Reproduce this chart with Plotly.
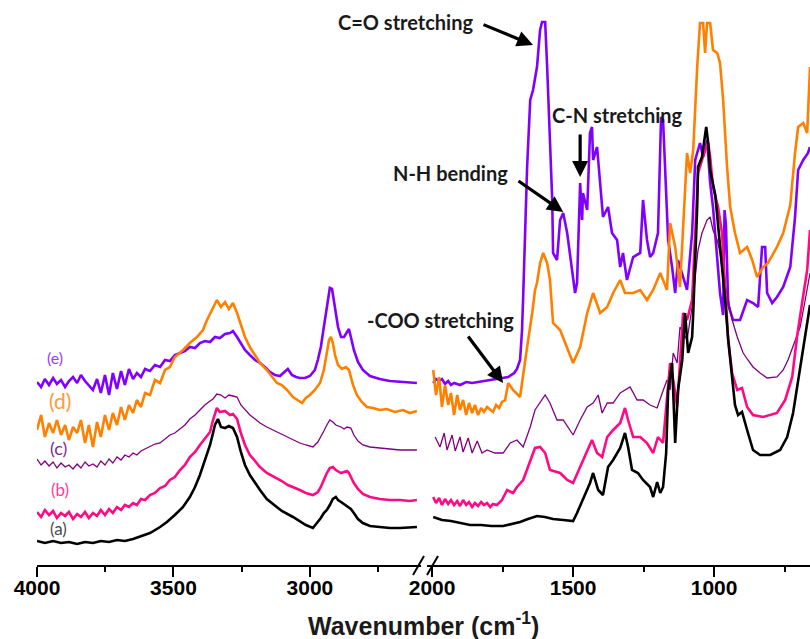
import plotly.graph_objects as go

# ---------------- data: (wavenumber cm-1, intensity a.u.) ----------------
A_LEFT = [(4000,24),(3971,22),(3941,24),(3912,22),(3883,23),(3853,21),(3824,23),(3795,22),(3766,24),(3736,23),(3707,25),(3678,24),(3648,26),(3619,29),(3586,32),(3549,38),(3524,43),(3495,50),(3465,58),(3440,68),(3421,78),(3403,90),(3385,104),(3366,120),(3355,132),(3348,140),(3337,146),(3326,138),(3311,137),(3297,139),(3282,137),(3267,128),(3253,113),(3238,100),(3220,90),(3201,82),(3183,75),(3158,66),(3128,59),(3103,54),(3062,48),(3037,44),(3015,40),(2989,37),(2971,43),(2960,47),(2949,52),(2938,55),(2927,60),(2916,66),(2905,68),(2897,65),(2886,63),(2875,61),(2864,59),(2850,56),(2839,52),(2824,46),(2806,42),(2780,39),(2744,38),(2707,37),(2670,37),(2634,38),(2608,38)]
B_LEFT = [(4000,53),(3985,48),(3971,55),(3956,50),(3941,54),(3927,47),(3912,52),(3897,49),(3883,53),(3868,46),(3853,51),(3839,48),(3824,53),(3810,47),(3795,52),(3780,49),(3766,55),(3751,50),(3736,56),(3722,52),(3707,58),(3692,55),(3678,60),(3663,58),(3648,62),(3634,60),(3619,66),(3604,65),(3586,70),(3568,72),(3549,77),(3531,79),(3513,85),(3495,88),(3476,95),(3458,100),(3440,108),(3421,113),(3403,120),(3385,126),(3366,133),(3355,145),(3341,157),(3330,153),(3311,154),(3293,150),(3282,151),(3267,146),(3253,132),(3238,120),(3220,110),(3201,104),(3183,98),(3158,92),(3128,88),(3103,84),(3081,80),(3062,78),(3037,75),(3015,72),(2989,70),(2971,73),(2960,78),(2949,85),(2938,92),(2927,97),(2916,98),(2905,95),(2886,92),(2875,93),(2864,94),(2857,92),(2850,88),(2839,82),(2824,76),(2806,71),(2780,68),(2744,66),(2707,65),(2670,65),(2634,64),(2608,65)]
C_LEFT = [(4000,106),(3985,100),(3971,104),(3956,99),(3941,103),(3927,97),(3912,102),(3897,98),(3883,100),(3868,96),(3853,101),(3839,97),(3824,103),(3810,99),(3795,101),(3780,98),(3766,104),(3751,100),(3736,106),(3722,102),(3707,108),(3692,105),(3678,110),(3663,108),(3648,112),(3634,110),(3619,114),(3604,116),(3586,118),(3568,121),(3549,122),(3531,126),(3513,130),(3495,132),(3476,136),(3458,140),(3440,146),(3421,150),(3403,155),(3385,160),(3366,164),(3355,166),(3341,171),(3326,170),(3311,167),(3297,170),(3282,169),(3267,168),(3253,160),(3238,155),(3220,150),(3201,146),(3183,142),(3158,138),(3128,134),(3103,131),(3081,128),(3062,125),(3037,122),(3015,120),(2989,118),(2971,123),(2960,128),(2949,134),(2938,140),(2927,145),(2916,143),(2905,140),(2886,138),(2875,136),(2864,138),(2850,137),(2839,130),(2824,124),(2806,120),(2780,118),(2744,117),(2707,116),(2670,115),(2608,115)]
D_LEFT = [(4000,135),(3985,150),(3971,128),(3956,142),(3941,132),(3927,145),(3912,130),(3897,140),(3883,125),(3868,138),(3853,132),(3839,145),(3824,122),(3810,140),(3795,118),(3780,143),(3766,128),(3751,150),(3736,135),(3722,152),(3707,140),(3692,158),(3678,145),(3663,160),(3648,152),(3634,165),(3619,158),(3604,172),(3586,170),(3568,185),(3549,182),(3531,195),(3513,198),(3495,208),(3465,215),(3440,222),(3414,228),(3392,235),(3377,245),(3355,258),(3341,265),(3326,258),(3311,263),(3297,256),(3282,262),(3267,252),(3253,240),(3238,228),(3220,218),(3201,210),(3183,202),(3158,195),(3139,188),(3121,182),(3103,180),(3084,175),(3062,168),(3044,165),(3029,162),(3015,167),(3000,170),(2982,175),(2963,182),(2949,195),(2938,212),(2930,225),(2923,228),(2916,222),(2908,210),(2897,200),(2883,196),(2868,198),(2857,195),(2842,180),(2828,170),(2810,163),(2791,158),(2769,157),(2744,155),(2718,156),(2689,153),(2659,155),(2634,152),(2608,154)]
E_LEFT = [(4000,183),(3985,178),(3971,186),(3956,180),(3941,187),(3927,181),(3912,185),(3897,178),(3883,184),(3868,188),(3853,182),(3839,190),(3824,184),(3810,180),(3795,175),(3780,186),(3766,172),(3751,190),(3736,170),(3722,192),(3707,176),(3692,194),(3678,180),(3663,196),(3648,186),(3634,192),(3619,188),(3604,196),(3586,194),(3568,200),(3549,198),(3531,205),(3513,204),(3495,210),(3476,212),(3458,214),(3440,218),(3421,217),(3403,222),(3385,224),(3366,223),(3348,228),(3330,227),(3311,231),(3293,232),(3282,234),(3267,228),(3253,222),(3238,215),(3220,210),(3201,205),(3183,202),(3165,198),(3147,193),(3128,190),(3110,189),(3095,193),(3081,196),(3066,190),(3051,188),(3037,187),(3018,187),(3000,189),(2982,195),(2971,205),(2960,218),(2949,238),(2938,258),(2930,272),(2927,277),(2919,276),(2912,265),(2905,250),(2897,238),(2886,228),(2875,228),(2864,233),(2857,236),(2850,228),(2839,215),(2824,203),(2806,195),(2780,189),(2744,186),(2707,184),(2670,183),(2608,182)]

A_RIGHT = [(1996,48),(1965,45),(1933,44),(1901,42),(1865,40),(1826,40),(1790,39),(1748,39),(1720,41),(1688,43),(1660,46),(1628,49),(1600,48),(1571,46),(1535,45),(1500,44),(1486,52),(1465,65),(1440,82),(1429,92),(1411,75),(1394,70),(1376,98),(1358,105),(1333,117),(1316,132),(1305,118),(1291,95),(1270,92),(1252,85),(1227,78),(1216,68),(1202,83),(1191,72),(1181,78),(1170,112),(1163,175),(1149,202),(1142,142),(1138,122),(1128,175),(1113,205),(1103,252),(1092,212),(1078,228),(1074,252),(1060,358),(1057,398),(1043,408),(1032,432),(1028,438),(1021,422),(1014,395),(996,370),(986,340),(972,300),(961,265),(950,225),(936,185),(926,160),(915,150),(901,153),(883,135),(862,115),(837,110),(801,110),(766,115),(741,128),(720,152),(702,185),(688,210),(670,240),(660,260)]
B_RIGHT = [(1996,68),(1986,62),(1975,67),(1965,60),(1954,66),(1943,61),(1933,65),(1922,60),(1911,64),(1901,59),(1890,65),(1879,60),(1869,63),(1858,58),(1848,62),(1837,59),(1826,63),(1816,60),(1805,62),(1794,58),(1784,61),(1770,60),(1752,65),(1734,75),(1713,72),(1699,78),(1677,85),(1652,105),(1635,117),(1617,118),(1599,112),(1582,95),(1546,92),(1521,85),(1500,82),(1475,98),(1450,115),(1433,125),(1415,112),(1397,108),(1379,128),(1358,135),(1333,142),(1316,157),(1305,145),(1287,128),(1262,128),(1238,122),(1216,112),(1199,128),(1181,122),(1167,168),(1156,202),(1145,185),(1131,158),(1121,202),(1110,252),(1096,245),(1078,265),(1067,332),(1057,392),(1043,405),(1032,415),(1021,422),(1014,408),(1004,378),(986,358),(972,332),(961,278),(950,225),(936,192),(918,175),(901,177),(883,158),(862,150),(826,148),(777,152),(748,165),(723,188),(706,228),(688,262),(670,295),(660,335)]
C_RIGHT = [(1989,128),(1972,118),(1957,132),(1947,115),(1929,130),(1918,114),(1901,128),(1890,113),(1872,127),(1858,112),(1840,124),(1823,112),(1805,115),(1777,112),(1748,112),(1723,122),(1699,125),(1677,118),(1652,138),(1635,155),(1599,170),(1582,162),(1557,145),(1535,145),(1500,130),(1475,145),(1450,158),(1429,162),(1411,170),(1397,152),(1379,162),(1358,162),(1333,172),(1298,178),(1273,165),(1252,165),(1227,160),(1202,157),(1184,172),(1167,185),(1156,175),(1145,212),(1131,202),(1121,238),(1096,225),(1078,258),(1057,315),(1043,332),(1025,345),(1014,348),(1004,335),(989,325),(979,312),(968,288),(954,272),(936,245),(918,228),(897,212),(880,205),(862,198),(837,192),(812,187),(777,188),(755,195),(738,205),(720,218),(695,238),(677,265),(660,292)]
D_RIGHT = [(1996,195),(1986,170),(1975,188),(1965,158),(1954,180),(1943,160),(1933,172),(1922,150),(1911,170),(1901,155),(1890,165),(1879,150),(1869,162),(1858,152),(1848,160),(1837,150),(1826,157),(1816,153),(1805,158),(1794,155),(1784,153),(1773,160),(1762,157),(1752,163),(1741,165),(1730,182),(1713,175),(1688,168),(1677,188),(1663,218),(1645,252),(1635,275),(1628,282),(1617,302),(1606,312),(1592,302),(1582,285),(1571,242),(1546,235),(1521,218),(1500,202),(1475,218),(1450,252),(1429,272),(1404,252),(1379,258),(1358,272),(1333,285),(1316,272),(1287,272),(1262,275),(1238,265),(1216,275),(1191,292),(1167,275),(1156,342),(1138,318),(1121,278),(1110,332),(1096,412),(1085,392),(1074,415),(1060,498),(1050,542),(1039,542),(1032,512),(1025,542),(1014,542),(1004,515),(989,512),(979,502),(968,465),(954,398),(943,358),(926,332),(908,312),(883,318),(865,305),(848,288),(826,298),(809,302),(777,318),(755,332),(730,360),(713,412),(702,438),(684,442),(670,432),(660,498)]
E_RIGHT = [(1996,182),(1986,186),(1975,184),(1965,186),(1954,181),(1943,184),(1933,180),(1922,182),(1901,180),(1879,183),(1858,182),(1837,183),(1816,184),(1794,185),(1773,186),(1752,187),(1730,188),(1709,192),(1699,196),(1688,205),(1681,235),(1677,268),(1670,332),(1663,398),(1652,465),(1642,475),(1628,498),(1617,535),(1610,543),(1599,543),(1592,498),(1582,432),(1574,365),(1571,312),(1557,305),(1546,345),(1535,352),(1521,332),(1504,298),(1493,272),(1486,282),(1475,382),(1468,345),(1465,372),(1450,355),(1440,432),(1433,438),(1429,405),(1415,418),(1404,378),(1394,348),(1376,358),(1362,332),(1344,325),(1333,298),(1323,312),(1309,285),(1287,308),(1262,312),(1252,365),(1238,325),(1227,308),(1216,312),(1199,332),(1188,448),(1181,445),(1174,398),(1163,325),(1149,298),(1138,272),(1128,305),(1110,288),(1096,275),(1078,332),(1067,405),(1050,422),(1039,408),(1025,425),(1014,382),(1004,358),(989,305),(979,272),(968,250),(963,355),(958,340),(950,260),(933,245),(908,245),(883,265),(862,262),(844,258),(830,318),(819,318),(812,272),(794,262),(777,268),(755,278),(730,298),(713,348),(702,395),(684,405),(667,412),(660,418)]

SERIES = [
    ("(e)", E_LEFT, E_RIGHT, "#8000FF", 2.6),
    ("(d)", D_LEFT, D_RIGHT, "#FF8000", 2.6),
    ("(c)", C_LEFT, C_RIGHT, "#800080", 1.3),
    ("(b)", B_LEFT, B_RIGHT, "#FF0A84", 2.6),
    ("(a)", A_LEFT, A_RIGHT, "#000000", 2.6),
]

LEFT_TICKS = [4000, 3500, 3000]
LEFT_MINOR = [3750, 3250, 2750]
RIGHT_TICKS = [2000, 1500, 1000]
RIGHT_MINOR = [1750, 1250, 750]

PEAK_LABELS = ["C=O stretching", "N-H bending", "C-N stretching", "-COO stretching"]

# ---------------- figure ----------------
W, H = 810, 639
ML, MR, MT, MB = 0, 0, 0, 74
PH = H - MT - MB


def px(x):
    return x / W


def py(y):
    return (H - MB - y) / PH


fig = go.Figure()
for name, left, right, color, lw in SERIES:
    fig.add_trace(go.Scatter(x=[p[0] for p in left], y=[p[1] for p in left], mode="lines",
                             line=dict(color=color, width=lw), xaxis="x", yaxis="y",
                             showlegend=False, name=name))
    fig.add_trace(go.Scatter(x=[p[0] for p in right], y=[p[1] for p in right], mode="lines",
                             line=dict(color=color, width=lw), xaxis="x2", yaxis="y",
                             showlegend=False, name=name))

tickfont = dict(family="Arial, Liberation Sans, sans-serif", size=21, color="black", weight="bold")
common = dict(showgrid=False, zeroline=False, showline=True, linecolor="black", linewidth=2,
              ticks="outside", ticklen=10, tickwidth=2, tickcolor="black", tickfont=tickfont,
              anchor="y", automargin=False, ticklabelstandoff=-7)

fig.update_layout(
    width=W, height=H, margin=dict(l=ML, r=MR, t=MT, b=MB, autoexpand=False),
    showlegend=False,
    paper_bgcolor="white", plot_bgcolor="white",
    xaxis=dict(domain=[px(37), px(421)], range=[4000, 2593], tickvals=LEFT_TICKS,
               minor=dict(tickvals=LEFT_MINOR, ticks="outside", ticklen=5, tickwidth=2,
                          tickcolor="black", showgrid=False), **common),
    xaxis2=dict(domain=[px(427), 1], range=[2018, 660], tickvals=RIGHT_TICKS,
                minor=dict(tickvals=RIGHT_MINOR, ticks="outside", ticklen=5, tickwidth=2,
                           tickcolor="black", showgrid=False), **common),
    yaxis=dict(domain=[0, 1], range=[0, H - MB], visible=False, fixedrange=True),
)

# axis break marks
for x0, x1 in [(413, 424), (427, 438)]:
    fig.add_shape(type="line", xref="paper", yref="paper", x0=px(x0), y0=py(575),
                  x1=px(x1), y1=py(556), line=dict(color="black", width=2))

# axis title
fig.add_annotation(xref="paper", yref="paper", x=px(423), y=py(624), showarrow=False,
                   text="Wavenumber (cm<sup>-1</sup>)", xanchor="center", yanchor="middle",
                   font=dict(family="Arial, Liberation Sans, sans-serif", size=25,
                             color="#1a1a1a", weight="bold"))

# series labels
label_specs = [("(e)", 55, 357, "#9A3DFF", 16), ("(d)", 60, 401, "#FF9A3A", 21),
               ("(c)", 58, 448, "#7E2C8E", 18), ("(b)", 60, 489, "#FF3A9A", 17),
               ("(a)", 58, 528, "#4A4A4A", 17)]
for t, x, y, c, s in label_specs:
    fig.add_annotation(xref="paper", yref="paper", x=px(x), y=py(y), text=t, showarrow=False,
                       xanchor="center", yanchor="middle",
                       font=dict(family="Lato, sans-serif", size=s, color=c))

# peak labels
lab_pos = [(405, 22), (450, 173), (617, 115), (441, 320)]
for t, (x, y) in zip(PEAK_LABELS, lab_pos):
    fig.add_annotation(xref="paper", yref="paper", x=px(x), y=py(y), text=t, showarrow=False,
                       xanchor="center", yanchor="middle",
                       font=dict(family="Lato, sans-serif", size=20, color="#1a1a1a", weight="bold"))

# arrows (tail -> head, in right-axis data coordinates)
arrows = [((1823, 541), (1642, 520)), ((1699, 385), (1535, 353)),
          ((1475, 432), (1475, 388)), ((1876, 230), (1748, 182))]
for (tx, ty), (hx, hy) in arrows:
    fig.add_annotation(xref="x2", yref="y", axref="x2", ayref="y", x=hx, y=hy, ax=tx, ay=ty,
                       text="", showarrow=True, arrowhead=2, arrowsize=1, arrowwidth=3.2,
                       arrowcolor="black", standoff=0, startstandoff=0)

fig.write_html("out.html")
